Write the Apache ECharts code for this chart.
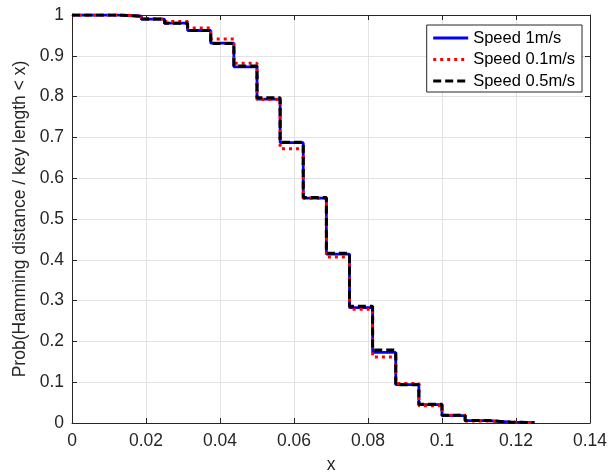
<!DOCTYPE html>
<html>
<head>
<meta charset="utf-8">
<script src="https://cdn.jsdelivr.net/npm/echarts@6/dist/echarts.min.js"></script>
<style>
  html, body { margin: 0; padding: 0; background: #fff; }
  #chart { width: 615px; height: 476px; }
</style>
</head>
<body>
<div id="chart"></div>
<script>
// step positions: k / 160 (key length 160), k = 0..20
var xSteps = [0, 0.00625, 0.0125, 0.01875, 0.025, 0.03125, 0.0375, 0.04375, 0.05, 0.05625,
  0.0625, 0.06875, 0.075, 0.08125, 0.0875, 0.09375, 0.1, 0.10625, 0.1125, 0.11875, 0.125];

var speed1 = [1, 1, 0.997, 0.99, 0.98, 0.962, 0.931, 0.873, 0.794, 0.687,
  0.551, 0.414, 0.283, 0.173, 0.094, 0.045, 0.018, 0.006, 0.002, 0.0008, 0.0008];
var speed01 = [1, 1, 0.998, 0.99, 0.984, 0.968, 0.941, 0.882, 0.793, 0.672,
  0.551, 0.407, 0.279, 0.162, 0.097, 0.042, 0.019, 0.005, 0.002, 0.001, 0.001];
var speed05 = [1, 1, 0.997, 0.99, 0.98, 0.962, 0.93, 0.875, 0.797, 0.688,
  0.553, 0.416, 0.286, 0.179, 0.094, 0.046, 0.019, 0.006, 0.002, 0.001, 0.001];

var seriesNames = ["Speed 1m/s", "Speed 0.1m/s", "Speed 0.5m/s"];

function pairs(ys) {
  return xSteps.map(function(x, i) { return [x, ys[i]]; });
}

var chart = echarts.init(document.getElementById("chart"));
var font = "Liberation Sans, Arial, sans-serif";
var axisColor = "#262626";

var option = {
  animation: false,
  textStyle: { fontFamily: font },
  grid: { left: 72, right: 25, top: 15, bottom: 53, outerBoundsMode: "none" },
  legend: {
    right: 33,
    top: 25,
    orient: "vertical",
    backgroundColor: "#fff",
    borderColor: "#262626",
    borderWidth: 1,
    borderRadius: 0,
    padding: [4, 7, 2, 5],
    itemGap: 3.5,
    itemWidth: 35,
    itemHeight: 14,
    itemStyle: { opacity: 0 },
    lineStyle: { width: 3 },
    textStyle: { fontSize: 16.5, lineHeight: 18, color: "#000", fontFamily: font },
    data: seriesNames
  },
  xAxis: [
    {
      type: "value",
      min: 0,
      max: 0.14,
      interval: 0.02,
      name: "x",
      nameLocation: "middle",
      nameGap: 33,
      nameTextStyle: { fontSize: 17.5, color: axisColor },
      axisLine: { onZero: false, lineStyle: { color: axisColor } },
      axisTick: { inside: true, length: 5, lineStyle: { color: axisColor } },
      axisLabel: { fontSize: 17.5, color: axisColor, margin: 9 },
      splitLine: { show: true, lineStyle: { color: "#e3e3e3" } }
    },
    {
      type: "value",
      position: "top",
      min: 0,
      max: 0.14,
      interval: 0.02,
      axisLine: { onZero: false, lineStyle: { color: axisColor } },
      axisTick: { inside: true, length: 5, lineStyle: { color: axisColor } },
      axisLabel: { show: false },
      splitLine: { show: false }
    }
  ],
  yAxis: [
    {
      type: "value",
      min: 0,
      max: 1,
      interval: 0.1,
      name: "Prob(Hamming distance / key length < x)",
      nameLocation: "middle",
      nameGap: 39,
      nameTextStyle: { fontSize: 17.5, color: axisColor },
      axisLine: { show: true, onZero: false, lineStyle: { color: axisColor } },
      axisTick: { show: true, inside: true, length: 5, lineStyle: { color: axisColor } },
      axisLabel: { fontSize: 17.5, color: axisColor, margin: 8 },
      splitLine: { show: true, lineStyle: { color: "#e3e3e3" } }
    },
    {
      type: "value",
      position: "right",
      min: 0,
      max: 1,
      interval: 0.1,
      axisLine: { show: true, onZero: false, lineStyle: { color: axisColor } },
      axisTick: { show: true, inside: true, length: 5, lineStyle: { color: axisColor } },
      axisLabel: { show: false },
      splitLine: { show: false }
    }
  ],
  series: [
    {
      name: seriesNames[0],
      type: "line",
      step: "end",
      symbol: "none",
      lineStyle: { color: "#0000ff", width: 2.8, type: "solid" },
      itemStyle: { color: "#0000ff" },
      data: pairs(speed1),
      z: 2
    },
    {
      name: seriesNames[1],
      type: "line",
      step: "end",
      symbol: "none",
      lineStyle: { color: "#ff0000", width: 3, type: [3, 4] },
      itemStyle: { color: "#ff0000" },
      data: pairs(speed01),
      z: 3
    },
    {
      name: seriesNames[2],
      type: "line",
      step: "end",
      symbol: "none",
      lineStyle: { color: "#000000", width: 3, type: [8, 4] },
      itemStyle: { color: "#000000" },
      data: pairs(speed05),
      z: 4
    }
  ]
};
chart.setOption(option);
</script>
</body>
</html>
